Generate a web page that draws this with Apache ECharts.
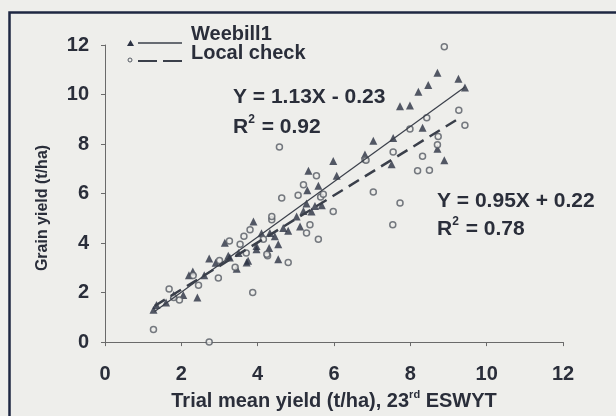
<!DOCTYPE html>
<html><head><meta charset="utf-8">
<script src="https://cdn.jsdelivr.net/npm/echarts@6/dist/echarts.min.js"></script>
<style>html,body{margin:0;padding:0;background:#eeeeeb;}#c{width:616px;height:416px;}</style>
</head><body><div id="c"></div>
<script>
var xTicks = [0, 2, 4, 6, 8, 10, 12];
var yTicks = [0, 2, 4, 6, 8, 10, 12];
var weebill = [
  [1.27,1.31],[1.35,1.5],[1.6,1.6],[1.8,1.9],[2.05,1.9],[2.42,1.8],[2.3,2.85],[2.2,2.7],[2.6,2.7],
  [2.73,3.38],[2.9,3.2],[3.14,4.01],[3.27,3.42],[3.45,2.96],[3.23,3.49],[3.5,3.6],[3.71,3.22],[3.75,3.29],
  [3.89,4.87],[3.97,3.75],[3.97,3.88],[4.1,4.4],[4.3,3.8],[4.32,4.41],[4.45,4.28],[4.54,3.95],[4.54,3.35],
  [4.67,4.61],[4.8,4.5],[5.02,5.07],[5.11,4.67],[5.2,5.3],[5.28,5.6],[5.3,6.13],[5.33,6.92],[5.41,5.27],
  [5.5,5.5],[5.59,6.32],[5.68,5.53],[5.98,7.31],[6.07,6.72],[6.81,7.58],[7.03,8.13],[7.51,7.18],[7.55,8.24],
  [7.73,9.53],[7.99,9.56],[8.21,10.11],[8.32,8.66],[8.47,10.38],[8.71,10.88],[8.71,7.81],[8.89,7.34],
  [9.26,10.64],[9.43,10.28]
];
var localCheck = [
  [1.27,0.51],[2.73,0.0],[1.68,2.14],[1.95,1.7],[1.8,1.8],[2.31,2.69],[2.45,2.3],[2.97,2.59],[3.87,2.0],
  [3.26,4.08],[3.64,4.28],[3.8,4.54],[4.26,3.49],[3.41,3.02],[3.54,3.95],[3.0,3.3],[3.7,3.6],[4.37,4.94],
  [4.57,7.88],[5.54,6.72],[5.2,6.36],[5.06,5.93],[4.63,5.82],[5.65,5.86],[5.72,5.97],[7.03,6.06],[5.98,5.27],
  [4.37,5.07],[5.37,4.74],[5.28,4.41],[5.59,4.15],[4.15,4.15],[4.24,3.55],[4.8,3.22],[6.81,7.38],[8.89,11.93],
  [8.43,9.06],[9.27,9.36],[9.43,8.76],[7.99,8.61],[8.73,8.3],[8.71,7.97],[7.55,7.68],[6.84,7.34],[8.32,7.51],
  [8.19,6.92],[8.5,6.94],[7.73,5.62],[7.54,4.74]
];
var weebillLine = [[1.3,1.24],[9.43,10.3]];
var localLine = [[1.3,1.46],[9.3,9.06]];
var eq1 = ['Y = 1.13X - 0.23', ' = 0.92'];
var eq2 = ['Y = 0.95X + 0.22', ' = 0.78'];
var names = ['Weebill1', 'Local check'];
var yTitle = 'Grain yield (t/ha)';

var ink = '#2a2e3a';
var font = 'Liberation Sans';
var richR = {
  a: {fontFamily: font, fontWeight: 'bold', fontSize: 21, fill: ink, color: ink, verticalAlign: 'bottom', lineHeight: 24},
  s: {fontFamily: font, fontWeight: 'bold', fontSize: 12, fill: ink, color: ink, verticalAlign: 'top', lineHeight: 24, padding: [0,1,0,0]}
};
function rText(x, y, rest) {
  return {type: 'text', left: x, top: y, style: {text: '{a|R}{s|2}{a|' + rest + '}', rich: richR, fill: ink}};
}
var chart = echarts.init(document.getElementById('c'));
chart.setOption({
  backgroundColor: '#eeeeeb',
  animation: false,
  grid: {left: 105, right: 53, top: 45, bottom: 68, containLabel: false},
  xAxis: {
    type: 'value', min: 0, max: 12, interval: 2,
    axisLine: {show: true, onZero: false, lineStyle: {color: '#6a6a6a', width: 1}},
    axisTick: {show: true, inside: false, length: 4, lineStyle: {color: '#6a6a6a'}},
    splitLine: {show: false},
    axisLabel: {margin: 22, color: ink, fontFamily: font, fontWeight: 'bold', fontSize: 20,
      formatter: function(v){ return xTicks.indexOf(v) >= 0 ? String(v) : ''; }},
    name: '{a|Trial mean yield (t/ha), 23}{s|rd}{a| ESWYT}',
    nameLocation: 'middle', nameGap: 44,
    nameTextStyle: {rich: {
      a: {fontFamily: font, fontWeight: 'bold', fontSize: 20, color: ink, verticalAlign: 'bottom', lineHeight: 22},
      s: {fontFamily: font, fontWeight: 'bold', fontSize: 11, color: ink, verticalAlign: 'top', lineHeight: 22}
    }}
  },
  yAxis: {
    type: 'value', min: 0, max: 12, interval: 2,
    axisLine: {show: true, onZero: false, lineStyle: {color: '#6a6a6a', width: 1}},
    axisTick: {show: true, inside: false, length: 4, lineStyle: {color: '#6a6a6a'}},
    splitLine: {show: false},
    axisLabel: {margin: 16, color: ink, fontFamily: font, fontWeight: 'bold', fontSize: 20,
      formatter: function(v){ return yTicks.indexOf(v) >= 0 ? String(v) : ''; }}
  },
  series: [
    {name: names[0], type: 'scatter', data: weebill, symbol: 'triangle', symbolSize: 8,
      itemStyle: {color: '#2b3142'}, z: 3},
    {name: names[1], type: 'scatter', data: localCheck, symbol: 'circle', symbolSize: 6,
      itemStyle: {color: '#eeeeeb', borderColor: '#555a63', borderWidth: 1.5}, z: 4},
    {type: 'line', data: weebillLine, symbol: 'none', lineStyle: {color: '#3a3f4a', width: 1.2, type: 'solid'}, z: 5},
    {type: 'line', data: localLine, symbol: 'none', lineStyle: {color: '#3a3f4a', width: 2.5, type: [12, 7]}, z: 5}
  ],
  graphic: [
    {type: 'rect', shape: {x: 9.5, y: 12.5, width: 700, height: 500},
      style: {fill: 'none', stroke: '#1e2742', lineWidth: 2.5}, silent: true},
    {type: 'text', x: 43, y: 208, rotation: Math.PI / 2,
      style: {text: yTitle, font: 'bold 16px "Liberation Sans"', fill: ink, textAlign: 'center', textVerticalAlign: 'middle'}},
    {type: 'polygon', shape: {points: [[127,46],[130.5,40],[134,46]]}, style: {fill: '#2b3142'}},
    {type: 'line', shape: {x1: 138, y1: 43, x2: 182, y2: 43}, style: {stroke: '#3a3f4a', lineWidth: 1.5}},
    {type: 'text', left: 191, top: 24, style: {text: names[0], font: 'bold 20px "Liberation Sans"', fill: ink}},
    {type: 'circle', shape: {cx: 130, cy: 60, r: 2}, style: {fill: '#eeeeeb', stroke: '#555a63', lineWidth: 1}},
    {type: 'line', shape: {x1: 138, y1: 61, x2: 157, y2: 61}, style: {stroke: '#3a3f4a', lineWidth: 2}},
    {type: 'line', shape: {x1: 163, y1: 61, x2: 182, y2: 61}, style: {stroke: '#3a3f4a', lineWidth: 2}},
    {type: 'text', left: 191, top: 43, style: {text: names[1], font: 'bold 20px "Liberation Sans"', fill: ink}},
    {type: 'text', left: 233, top: 87, style: {text: eq1[0], font: 'bold 21px "Liberation Sans"', fill: ink}},
    rText(233, 114, eq1[1]),
    {type: 'text', left: 437, top: 191, style: {text: eq2[0], font: 'bold 21px "Liberation Sans"', fill: ink}},
    rText(437, 216, eq2[1])
  ]
});
</script></body></html>
